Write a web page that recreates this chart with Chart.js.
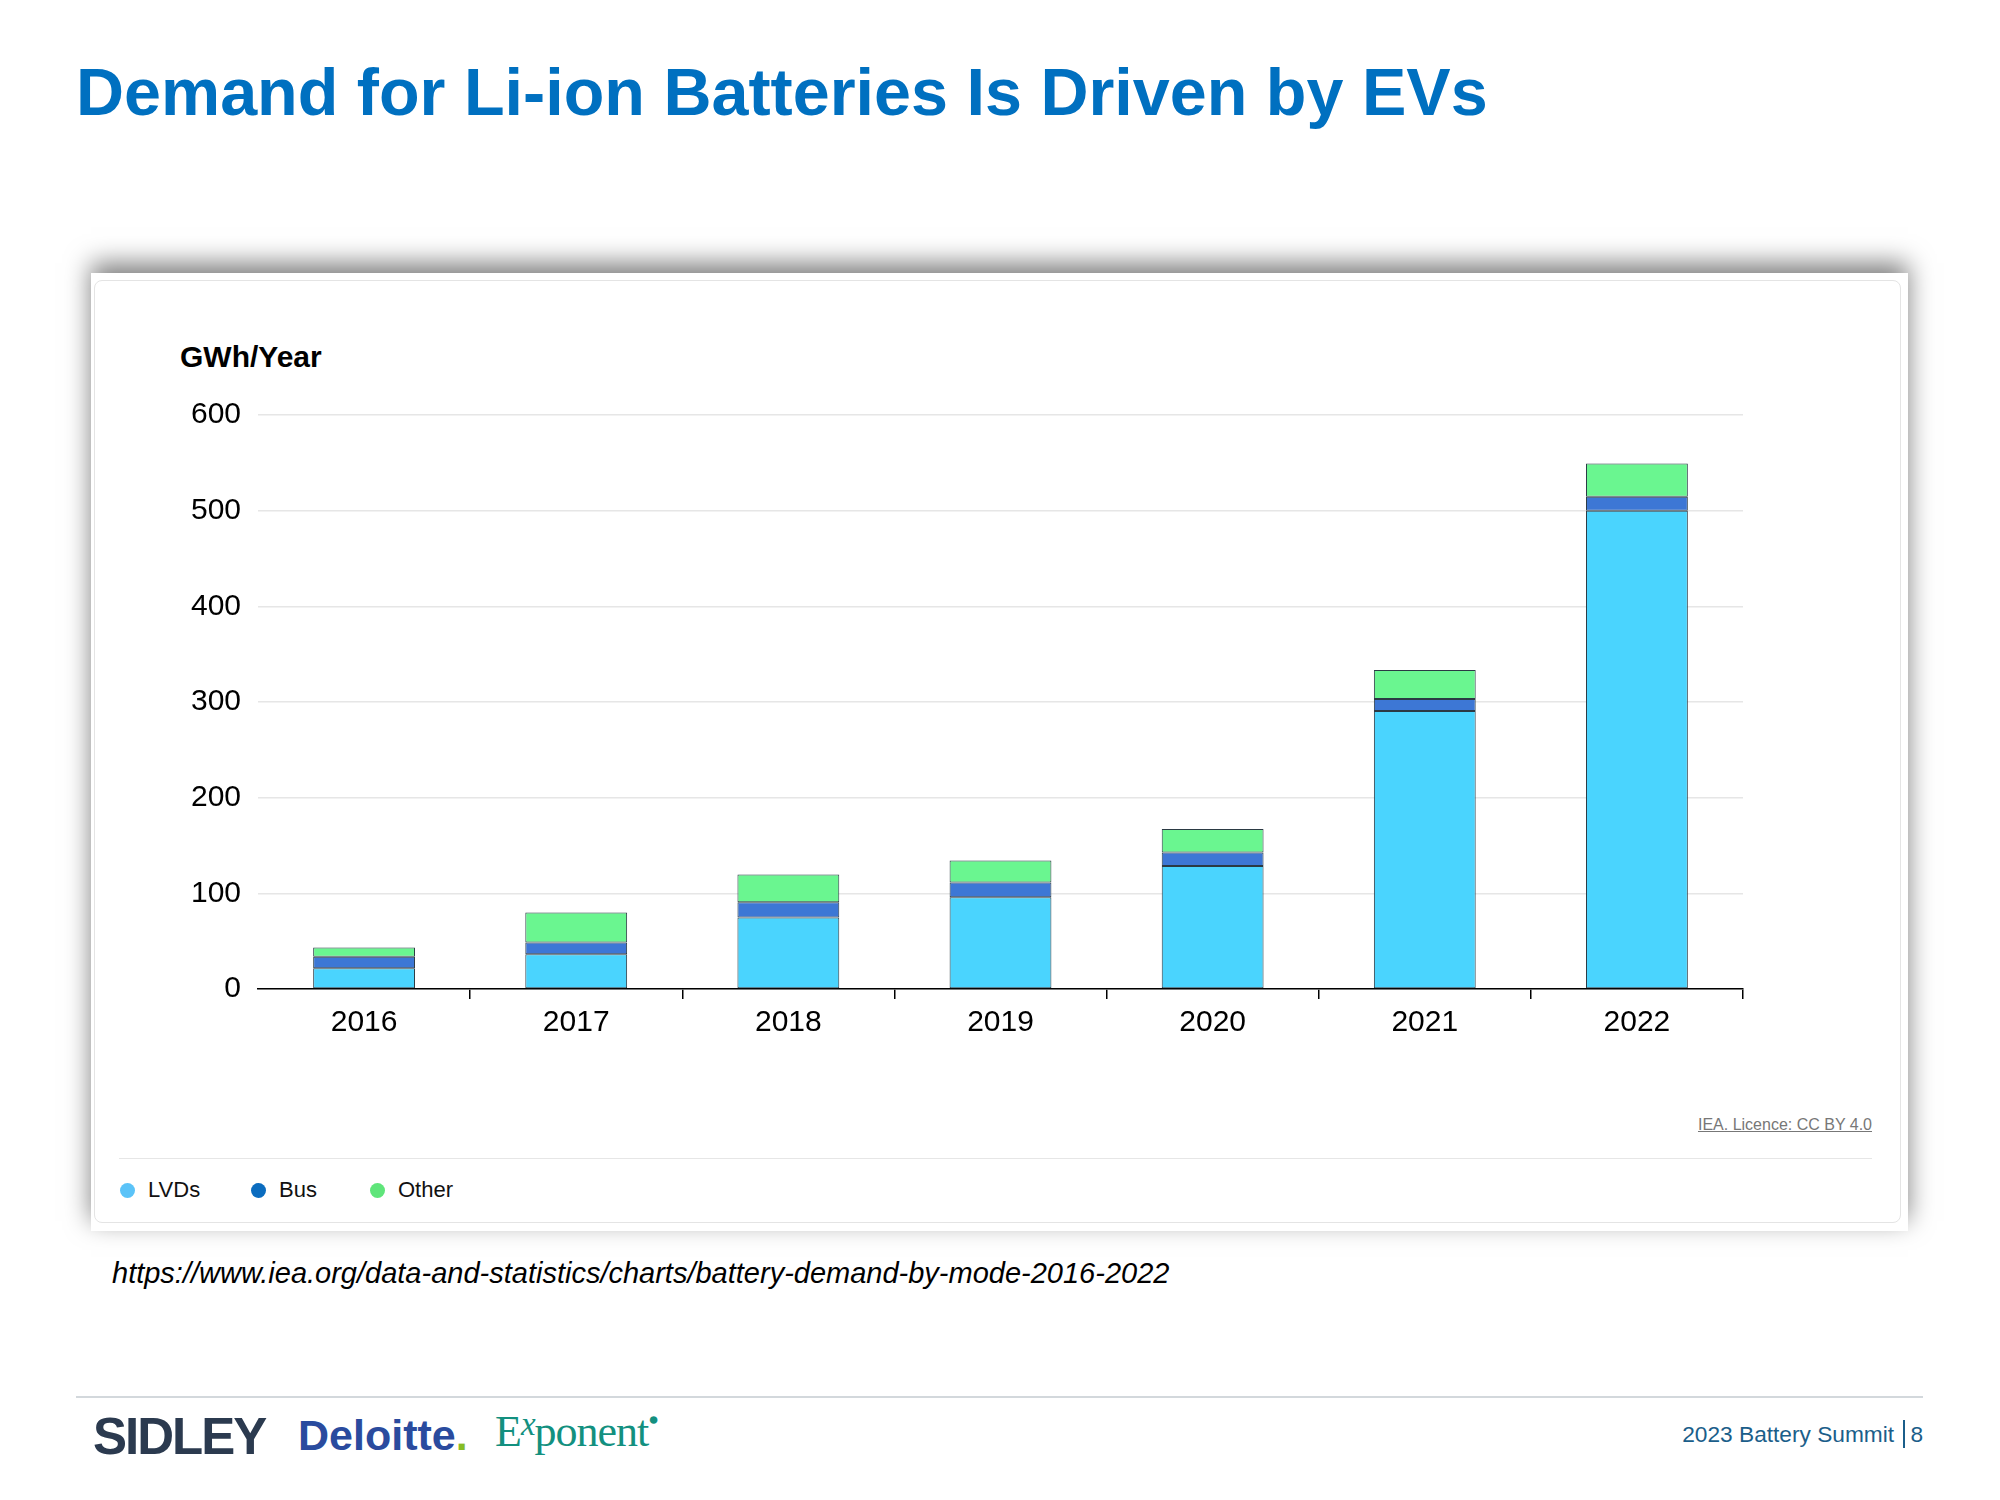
<!DOCTYPE html>
<html>
<head>
<meta charset="utf-8">
<script src="https://cdn.jsdelivr.net/npm/chart.js@4.4.1/dist/chart.umd.min.js"></script>
<style>
    body { margin: 0; background: #fff; font-family: "Liberation Sans", Arial, sans-serif; }
    #page { position: relative; width: 2000px; height: 1500px; overflow: hidden; background: #fff; }
    .abs { position: absolute; white-space: nowrap; }
    #titulo { left: 76px; top: 52px; font-size: 66.5px; font-weight: bold; color: #0070c0; line-height: 80px; }
    #card { left: 91px; top: 273px; width: 1817px; height: 958px; background: #fff;
            box-shadow: 0 -10px 24px rgba(0,0,0,0.5); }
    #inner { left: 94px; top: 280px; width: 1805px; height: 941px; border: 1px solid #e4e4e4; border-radius: 8px; }
    #ejeTitulo { left: 180px; top: 340px; font-size: 30px; font-weight: bold; color: #000; line-height: 34px; }
    #grafico { left: 130px; top: 380px; width: 1630px; height: 680px; }
    #credito { right: 128px; top: 1116px; font-size: 16px; color: #777; text-decoration: underline; }
    #separador { left: 119px; top: 1158px; width: 1753px; height: 0; border-top: 1.5px solid #e6e6e6; }
    .leyenda { top: 1177px; font-size: 22px; color: #111; line-height: 26px; }
    .punto { display: inline-block; width: 15px; height: 15px; border-radius: 50%; margin-right: 13px; vertical-align: -1px; }
    #url { left: 112px; top: 1257px; font-size: 29px; font-style: italic; color: #000; }
    #linea { left: 76px; top: 1396px; width: 1847px; height: 2px; background: #d3d8dc; }
    #sidley { left: 93px; top: 1407px; font-size: 51px; font-weight: bold; color: #2b3a4f; letter-spacing: -2px; line-height: 60px; }
    #deloitte { left: 298px; top: 1410px; font-size: 43px; font-weight: bold; color: #2a4b9e; line-height: 50px; }
    #exponent { left: 495px; top: 1391px; font-size: 44px; font-family: "Liberation Serif", "DejaVu Serif", serif; color: #13907f; line-height: 56px; letter-spacing: -1px; }
    #pie { right: 77px; top: 1420px; font-size: 22.7px; color: #1b5e8a; line-height: 28px; }
</style>
</head>
<body>
<div id="page">
    <div id="titulo" class="abs">Demand for Li-ion Batteries Is Driven by EVs</div>
    <div id="card" class="abs"></div>
    <div id="inner" class="abs"></div>
    <div id="ejeTitulo" class="abs">GWh/Year</div>
    <div id="grafico" class="abs"><canvas id="myChart" width="1630" height="680"></canvas></div>
    <div id="credito" class="abs">IEA. Licence: CC BY 4.0</div>
    <div id="separador" class="abs"></div>
    <div class="abs leyenda" style="left:120px"><span class="punto" style="background:#5bc3f8"></span>LVDs</div>
    <div class="abs leyenda" style="left:251px"><span class="punto" style="background:#0b6cbf"></span>Bus</div>
    <div class="abs leyenda" style="left:370px"><span class="punto" style="background:#5fe57a"></span>Other</div>
    <div id="url" class="abs">https://www.iea.org/data-and-statistics/charts/battery-demand-by-mode-2016-2022</div>
    <div id="linea" class="abs"></div>
    <div id="sidley" class="abs">SIDLEY</div>
    <div id="deloitte" class="abs">Deloitte<span style="color:#86bc25">.</span></div>
    <div id="exponent" class="abs">E<span style="font-style:italic;font-size:0.75em;vertical-align:0.35em">x</span>ponent<span style="font-size:0.4em;vertical-align:1.2em">&#9679;</span></div>
    <div id="pie" class="abs">2023 Battery Summit <span style="display:inline-block;width:2px;height:28px;background:#1b5e8a;vertical-align:-6px;margin:0 5px 0 3px"></span>8</div>
</div>
<script>
    // valores (GWh/año)
    var ArrayAnios = ['2016', '2017', '2018', '2019', '2020', '2021', '2022'];
    var ArrayLVDs = [21.6, 36.2, 74.8, 96, 128.6, 290.6, 500];
    var ArrayBus = [12.1, 12.5, 16, 15.3, 14, 12.5, 14.5];
    var ArrayOther = [9.8, 31.3, 29, 23, 24.6, 30.3, 34.7];
    var ArrayTicksY = [0, 100, 200, 300, 400, 500, 600];

    var fuente = "'Liberation Sans', Arial, sans-serif";

    function serie(nombre, datos, color){
        return {
            label: nombre,
            data: datos,
            backgroundColor: color,
            borderColor: '#2b3a44',
            borderWidth: 1,
            borderSkipped: false,
            barPercentage: 0.48,
            categoryPercentage: 1
        };
    }

    var ctx = document.getElementById('myChart');
    var myChart = new Chart(ctx, {
        type: 'bar',
        data: {
            labels: ArrayAnios,
            datasets: [
                serie('LVDs', ArrayLVDs, '#4ad4fe'),
                serie('Bus', ArrayBus, '#3d77d5'),
                serie('Other', ArrayOther, '#6af690')
            ]
        },
        options: {
            responsive: false,
            animation: false,
            layout: { padding: { top: 33, right: 17, left: 0, bottom: 0 } },
            plugins: {
                legend: { display: false },
                tooltip: { enabled: false }
            },
            scales: {
                x: {
                    stacked: true,
                    afterFit: function(scale){ scale.height = 71; },
                    border: { display: true, color: '#000', width: 1.5 },
                    grid: {
                        offset: true,
                        drawOnChartArea: false,
                        drawTicks: true,
                        tickLength: 10,
                        lineWidth: 1.5,
                        color: function(c){ return c.index === 0 ? 'rgba(0,0,0,0)' : '#000'; }
                    },
                    ticks: { color: '#000', padding: 6, font: { family: fuente, size: 30 } }
                },
                y: {
                    stacked: true,
                    min: 0,
                    max: 600,
                    afterFit: function(scale){ scale.width = 128; },
                    afterBuildTicks: function(scale){
                        scale.ticks = ArrayTicksY.map(function(v){ return { value: v }; });
                    },
                    border: { display: false },
                    grid: { color: '#e6e6e6', lineWidth: 1.5, drawTicks: false },
                    ticks: { color: '#000', padding: 17, font: { family: fuente, size: 30 } }
                }
            }
        }
    });
</script>
</body>
</html>
